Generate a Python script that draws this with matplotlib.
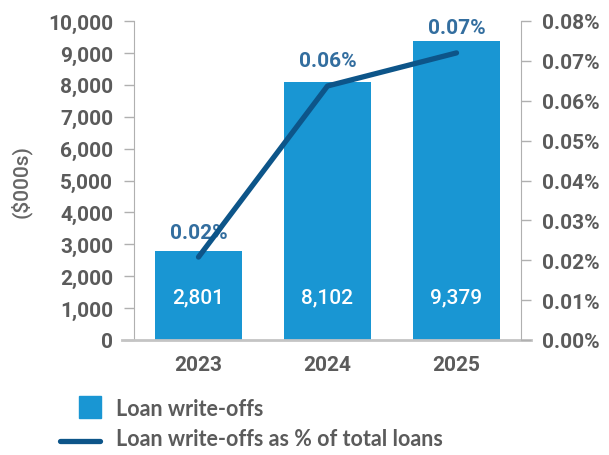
import matplotlib.pyplot as plt
from matplotlib.lines import Line2D
from matplotlib.patches import Rectangle
from matplotlib.ticker import FuncFormatter

years = ["2023", "2024", "2025"]
write_offs = [2801, 8102, 9379]          # $000s
pct_of_loans = [0.0208, 0.0637, 0.0720]  # %
pct_labels = ["0.02%", "0.06%", "0.07%"]

bar_color = "#1996d3"
line_color = "#0d5589"
pct_color = "#336e9f"
tick_color = "#5b5b5b"
axis_gray = "#b0b0b0"

num_font = "Roboto"
txt_font = "Lato"

W, H = 609, 456
fig = plt.figure(figsize=(W / 100, H / 100), dpi=100)
ax = fig.add_axes([134 / W, 1 - 341 / H, (521 - 134) / W, (341 - 22) / H])
ax2 = ax.twinx()

x = list(range(len(years)))
ax.bar(x, write_offs, width=0.67, color=bar_color, zorder=2)
ax.set_xlim(-0.5, 2.5)
ax.set_ylim(0, 10000)
ax.set_yticks(range(0, 10001, 1000))
ax.yaxis.set_major_formatter(FuncFormatter(lambda v, p: f"{int(v):,}"))
ax.set_xticks(x)
ax.set_xticklabels(years)

for xi, v in zip(x, write_offs):
    ax.text(xi, 1350, f"{v:,}", ha="center", va="center", color="white",
            fontsize=15, fontweight="medium", family=num_font, zorder=3)

ax2.plot(x, pct_of_loans, color=line_color, lw=3.8, solid_capstyle="round",
         solid_joinstyle="round", zorder=4)
ax2.set_ylim(0, 0.08)
ax2.set_yticks([i / 100 for i in range(9)])
ax2.yaxis.set_major_formatter(FuncFormatter(lambda v, p: f"{v:.2f}%"))
for xi, v, lab in zip(x, pct_of_loans, pct_labels):
    ax2.annotate(lab, (xi, v), xytext=(0, 18), textcoords="offset points",
                 ha="center", va="center", color=pct_color, fontsize=15,
                 fontweight="bold", family=num_font)

for a in (ax, ax2):
    for s in a.spines.values():
        s.set_visible(False)
    a.tick_params(axis="y", length=7, width=1, color=axis_gray, labelsize=15,
                  labelcolor=tick_color, pad=8)
    for t in a.get_yticklabels():
        t.set_fontweight("bold")
        t.set_family(num_font)
ax.spines["left"].set_visible(True)
ax.spines["left"].set_color(axis_gray)
ax2.spines["right"].set_visible(True)
ax2.spines["right"].set_color(axis_gray)
ax.tick_params(axis="x", length=0, labelsize=15, labelcolor=tick_color, pad=11)
for t in ax.get_xticklabels():
    t.set_fontweight("bold")
    t.set_family(num_font)

# baseline, slightly wider than the plot area
ax.add_line(Line2D([-0.03, 1.025], [0, 0], transform=ax.transAxes,
                   color="#c4c4c4", lw=2, clip_on=False, zorder=5))

ax.set_ylabel("($000s)", fontsize=15, color="#666666", family=num_font,
              fontweight="medium", labelpad=12)

# legend
fig.add_artist(Rectangle((79 / W, 1 - 419 / H), 22 / W, 22 / H,
                         transform=fig.transFigure, color=bar_color))
fig.add_artist(Line2D([60 / W, 100 / W], [1 - 442 / H, 1 - 442 / H],
                      transform=fig.transFigure, color=line_color, lw=3.8,
                      solid_capstyle="round"))
fig.text(116 / W, 1 - 410 / H, "Loan write-offs", fontsize=15.5,
         fontweight="bold", color=tick_color, family=txt_font, va="center")
fig.text(116 / W, 1 - 440 / H, "Loan write-offs as % of total loans",
         fontsize=15.5, fontweight="bold", color=tick_color, family=txt_font,
         va="center")

fig.savefig("out.png", dpi=100)
